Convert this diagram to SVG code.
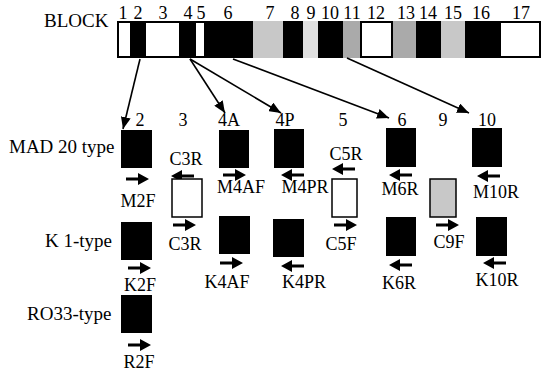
<svg xmlns="http://www.w3.org/2000/svg" xmlns:xlink="http://www.w3.org/1999/xlink" width="541" height="374" viewBox="0 0 541 374">
<style>
text{font-family:"Liberation Serif","Times New Roman",serif;font-size:18px;fill:#000;text-anchor:middle}
.lbl{text-anchor:start;font-size:19px}
.blk{fill:#000}
.wht{fill:#fff;stroke:#000;stroke-width:2}
.g1{fill:#c8c8c8}
.g2{fill:#e0e0e0}
.g3{fill:#aaaaaa}
.box{fill:#000}
.obox{fill:#fff;stroke:#000;stroke-width:1.5}
.gbox{fill:#c8c8c8;stroke:#000;stroke-width:1.5}
.conn{stroke:#000;stroke-width:1.6;fill:none;marker-end:url(#ah)}
</style>
<defs>
<marker id="ah" viewBox="0 0 12 10" refX="12" refY="5" markerWidth="12" markerHeight="10" markerUnits="userSpaceOnUse" orient="auto">
<path d="M0,0 L12,5 L0,10 Z" fill="#000"/>
</marker>
<path id="pf" d="M0,-1.5 H12 V-6 L23,0 L12,6 V1.5 H0 Z" fill="#000"/>
<path id="pb" d="M23,-1.5 H11 V-6 L0,0 L11,6 V1.5 H23 Z" fill="#000"/>
</defs>

<g id="block-bar">
<text class="lbl" x="44" y="27">BLOCK</text>
<rect class="wht" x="118" y="22" width="13" height="35"/>
<rect class="blk" x="131" y="21" width="14" height="37"/>
<rect class="wht" x="145" y="22" width="35" height="35"/>
<rect class="blk" x="180" y="21" width="15" height="37"/>
<rect class="wht" x="195" y="22" width="10" height="35"/>
<rect class="blk" x="205" y="21" width="48" height="37"/>
<rect class="g1" x="253" y="21" width="30" height="37"/>
<rect class="blk" x="283" y="21" width="20" height="37"/>
<rect class="g2" x="303" y="21" width="15" height="37"/>
<rect class="blk" x="318" y="21" width="25" height="37"/>
<rect class="g3" x="343" y="21" width="17" height="37"/>
<rect class="wht" x="361" y="22" width="31" height="35"/>
<rect class="g3" x="393" y="21" width="23" height="37"/>
<rect class="blk" x="416" y="21" width="25" height="37"/>
<rect class="g1" x="441" y="21" width="24" height="37"/>
<rect class="blk" x="465" y="21" width="34" height="37"/>
<rect class="wht" x="500" y="22" width="40" height="35"/>
<text x="123" y="19">1</text>
<text x="138" y="19">2</text>
<text x="163" y="19">3</text>
<text x="188" y="19">4</text>
<text x="201" y="19">5</text>
<text x="228" y="19">6</text>
<text x="270" y="19">7</text>
<text x="295" y="19">8</text>
<text x="311" y="19">9</text>
<text x="330" y="19">10</text>
<text x="352" y="19">11</text>
<text x="376" y="19">12</text>
<text x="406" y="19">13</text>
<text x="428" y="19">14</text>
<text x="453" y="19">15</text>
<text x="481" y="19">16</text>
<text x="521" y="19">17</text>
</g>

<g id="row-labels">
<text class="lbl" x="9" y="153">MAD 20 type</text>
<text class="lbl" x="45" y="247">K 1-type</text>
<text class="lbl" x="27" y="320">RO33-type</text>
</g>

<g id="col-labels">
<text x="140" y="126">2</text>
<text x="183" y="126">3</text>
<text x="229" y="126">4A</text>
<text x="285" y="126">4P</text>
<text x="343" y="126">5</text>
<text x="402" y="126">6</text>
<text x="443" y="126">9</text>
<text x="487" y="126">10</text>
</g>

<g id="connectors">
<line class="conn" x1="140" y1="59" x2="123" y2="129"/>
<line class="conn" x1="190" y1="59" x2="225" y2="113"/>
<line class="conn" x1="190" y1="59" x2="281" y2="113"/>
<line class="conn" x1="233" y1="59" x2="389" y2="118"/>
<line class="conn" x1="347" y1="58" x2="469" y2="113"/>
</g>

<g id="mad-2">
<rect class="box" x="121" y="130" width="31" height="38"/>
<use xlink:href="#pf" x="126" y="179"/>
<text x="138" y="207">M2F</text>
</g>
<g id="mad-3">
<text x="186" y="165">C3R</text>
<use xlink:href="#pb" x="171" y="176"/>
<rect class="obox" x="172" y="179" width="30" height="38"/>
<use xlink:href="#pf" x="173" y="225"/>
<text x="185" y="250">C3R</text>
</g>
<g id="mad-4a">
<rect class="box" x="219" y="130" width="30" height="38"/>
<use xlink:href="#pf" x="223" y="175"/>
<text x="241" y="193">M4AF</text>
</g>
<g id="mad-4p">
<rect class="box" x="274" y="129" width="30" height="39"/>
<use xlink:href="#pb" x="281" y="175"/>
<text x="305" y="193">M4PR</text>
</g>
<g id="mad-5">
<text x="346" y="160">C5R</text>
<use xlink:href="#pb" x="332" y="169"/>
<rect class="obox" x="332" y="179" width="25" height="38"/>
<use xlink:href="#pf" x="334" y="225"/>
<text x="341" y="250">C5F</text>
</g>
<g id="mad-6">
<rect class="box" x="386" y="128" width="30" height="39"/>
<use xlink:href="#pb" x="389" y="175"/>
<text x="400" y="195">M6R</text>
</g>
<g id="mad-9">
<rect class="gbox" x="430" y="179" width="26" height="38"/>
<use xlink:href="#pf" x="436" y="225"/>
<text x="449" y="248">C9F</text>
</g>
<g id="mad-10">
<rect class="box" x="472" y="128" width="30" height="39"/>
<use xlink:href="#pb" x="477" y="176"/>
<text x="496" y="198">M10R</text>
</g>

<g id="k1-2">
<rect class="box" x="121" y="222" width="31" height="38"/>
<use xlink:href="#pf" x="128" y="268"/>
<text x="140" y="291">K2F</text>
</g>
<g id="k1-4a">
<rect class="box" x="219" y="216" width="31" height="38"/>
<use xlink:href="#pf" x="220" y="263"/>
<text x="227" y="288">K4AF</text>
</g>
<g id="k1-4p">
<rect class="box" x="273" y="219" width="31" height="38"/>
<use xlink:href="#pb" x="281" y="266"/>
<text x="304" y="288">K4PR</text>
</g>
<g id="k1-6">
<rect class="box" x="386" y="217" width="30" height="39"/>
<use xlink:href="#pb" x="389" y="265"/>
<text x="399" y="289">K6R</text>
</g>
<g id="k1-10">
<rect class="box" x="476" y="217" width="31" height="39"/>
<use xlink:href="#pb" x="483" y="263"/>
<text x="497" y="286">K10R</text>
</g>

<g id="ro33-2">
<rect class="box" x="121" y="295" width="31" height="38"/>
<use xlink:href="#pf" x="128" y="345"/>
<text x="139" y="368">R2F</text>
</g>
</svg>
